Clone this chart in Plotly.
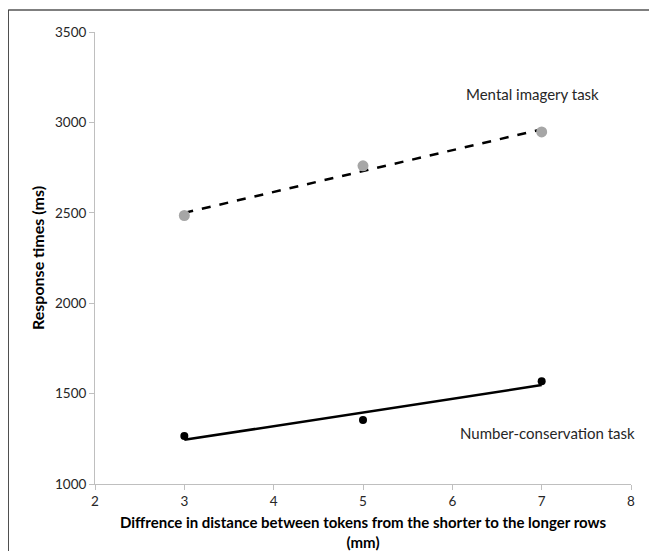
import numpy as np
import plotly.graph_objects as go

distance_mm = [3, 5, 7]
mental_imagery_rt = [2485, 2760, 2947]
number_conservation_rt = [1265, 1354, 1568]

x_ticks = [2, 3, 4, 5, 6, 7, 8]
y_ticks = [1000, 1500, 2000, 2500, 3000, 3500]

def trend(xs, ys):
    k, b = np.polyfit(xs, ys, 1)
    xe = [min(xs), max(xs)]
    return xe, [k * v + b for v in xe]

fig = go.Figure()

mx, my = trend(distance_mm, mental_imagery_rt)
nx, ny = trend(distance_mm, number_conservation_rt)

fig.add_trace(go.Scatter(x=mx, y=my, mode="lines",
                         line=dict(color="black", width=2.5, dash="dash"),
                         showlegend=False, hoverinfo="skip"))
fig.add_trace(go.Scatter(x=nx, y=ny, mode="lines",
                         line=dict(color="black", width=2.5),
                         showlegend=False, hoverinfo="skip"))
fig.add_trace(go.Scatter(x=distance_mm, y=mental_imagery_rt, mode="markers",
                         marker=dict(color="#a6a6a6", size=11),
                         showlegend=False))
fig.add_trace(go.Scatter(x=distance_mm, y=number_conservation_rt, mode="markers",
                         marker=dict(color="black", size=8),
                         showlegend=False))

font_family = "Lato, Open Sans, sans-serif"

fig.update_layout(
    width=657, height=551,
    margin=dict(l=87, r=34, t=24, b=75),
    paper_bgcolor="white", plot_bgcolor="white",
    font=dict(family=font_family, color="#262626", size=13),
    xaxis=dict(range=[2, 8], tickvals=x_ticks, showgrid=False, zeroline=False,
               showline=True, linecolor="#bfbfbf", linewidth=1,
               ticks="outside", ticklen=5, tickcolor="#bfbfbf",
               tickfont=dict(size=13.5, color="#262626"),
               title=dict(text="<b>Diffrence in distance between tokens from the shorter to the longer rows<br>(mm)</b>",
                          font=dict(size=15, color="black"), standoff=9)),
    yaxis=dict(range=[1000, 3500], tickvals=y_ticks, showgrid=False, zeroline=False,
               showline=True, linecolor="#bfbfbf", linewidth=1,
               ticks="outside", ticklen=5, tickcolor="#bfbfbf",
               tickfont=dict(size=13.5, color="#262626"),
               title=dict(text="<b>Response times (ms)</b>",
                          font=dict(size=16, color="black"), standoff=6)),
    annotations=[
        dict(x=6.9, y=3155, xref="x", yref="y", text="Mental imagery task",
             showarrow=False, font=dict(size=15, color="#262626")),
        dict(x=7.07, y=1282, xref="x", yref="y", text="Number-conservation task",
             showarrow=False, font=dict(size=15, color="#262626")),
    ],
    shapes=[
        dict(type="line", xref="paper", yref="paper", x0=-0.162, x1=1.2,
             y0=1.0487, y1=1.0487, line=dict(color="#7f7f7f", width=2)),
        dict(type="line", xref="paper", yref="paper", x0=-0.162, x1=-0.162,
             y0=1.0487, y1=-0.3, line=dict(color="#404040", width=1.5)),
    ],
)

fig.write_html("out.html")
